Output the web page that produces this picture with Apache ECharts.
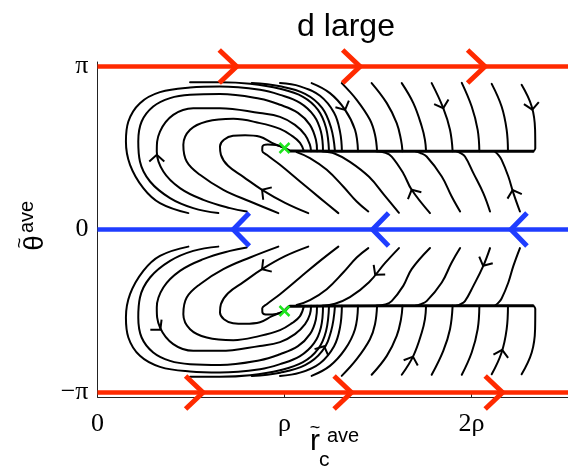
<!DOCTYPE html>
<html>
<head>
<meta charset="utf-8">
<script src="https://cdn.jsdelivr.net/npm/echarts@6/dist/echarts.min.js"></script>
<style>
  html, body { margin: 0; padding: 0; background: #fff; }
  #chart { width: 568px; height: 470px; }
</style>
</head>
<body>
<div id="chart"></div>
<script>
// Phase portrait of (r_c, theta) averaged dynamics, d large.
// x in units of rho, y in radians.

const xTickValues = [0, 1, 2];
const xTickLabels = ['0', 'ρ', '2ρ'];
const yTickValues = [-Math.PI, 0, Math.PI];
const yTickLabels = ['\u2212π', '0', 'π'];

const xRange = [0, 2.516];
const yRange = [-3.228, 3.228];

// Fixed points (green crosses)
const nodes = [[1, Math.PI / 2], [1, -Math.PI / 2]];

// Invariant lines: theta = ±pi (red) and theta = 0 (blue)
const redLineTop = [[0, Math.PI], [2.6, Math.PI]];
const redLineBottom = [[0, -Math.PI], [2.6, -Math.PI]];
const blueLine = [[0, 0], [2.6, 0]];

// Direction chevrons on the invariant lines: [x, y, xAhead, yAhead]
const redArrows = [
  [0.744, Math.PI, 0.9, Math.PI], [1.404, Math.PI, 1.6, Math.PI], [2.072, Math.PI, 2.2, Math.PI],
  [0.564, -Math.PI, 0.7, -Math.PI], [1.358, -Math.PI, 1.5, -Math.PI], [2.166, -Math.PI, 2.3, -Math.PI]
];
const blueArrows = [[0.726, 0, 0.6, 0], [1.471, 0, 1.3, 0], [2.211, 0, 2.1, 0]];

// Upper half: loops that wind round to the node
const upperLoops = [
  [[0.486,0.316],[0.334,0.509],[0.245,0.798],[0.174,1.247],[0.152,1.696],[0.165,2.081],[0.227,2.435],[0.334,2.647],[0.495,2.736],[0.655,2.755],[0.869,2.692],[0.976,2.595],[1.083,2.441],[1.158,2.191],[1.195,1.882],[1.206,1.507]],
  [[0.646,0.316],[0.512,0.412],[0.388,0.605],[0.281,0.925],[0.227,1.310],[0.218,1.696],[0.236,2.081],[0.298,2.370],[0.388,2.532],[0.495,2.595],[0.655,2.609],[0.869,2.518],[0.976,2.403],[1.072,2.249],[1.136,2.017],[1.168,1.728],[1.174,1.507]],
  [[0.798,0.347],[0.709,0.412],[0.566,0.572],[0.441,0.798],[0.352,1.118],[0.317,1.503],[0.334,1.888],[0.405,2.210],[0.512,2.339],[0.655,2.339],[0.869,2.243],[0.976,2.171],[1.056,2.017],[1.110,1.825],[1.136,1.632],[1.142,1.507]],
  [[0.967,0.316],[0.816,0.539],[0.673,0.765],[0.548,1.054],[0.477,1.310],[0.459,1.632],[0.495,1.921],[0.584,2.081],[0.726,2.133],[0.869,2.050],[0.976,1.940],[1.040,1.805],[1.083,1.670],[1.104,1.507]],
  [[1.127,0.316],[1.003,0.514],[0.880,0.765],[0.780,1.015],[0.698,1.227],[0.660,1.439],[0.655,1.599],[0.676,1.728],[0.725,1.805],[0.789,1.815],[0.869,1.786],[0.933,1.671],[1.0,1.571]],
  [[1.288,0.316],[1.190,0.605],[1.083,0.925],[0.976,1.247],[0.905,1.439],[0.881,1.520],[0.882,1.600],[0.910,1.640],[0.955,1.630],[1.0,1.571]]
];

// Upper half: lines entering from near theta = pi
const upperFromTop = [
  [[0.495,2.836],[0.655,2.836],[0.816,2.807],[0.976,2.711],[1.099,2.557],[1.179,2.306],[1.222,1.960],[1.238,1.507]],
  [[0.825,2.821],[0.976,2.759],[1.110,2.615],[1.201,2.345],[1.249,1.960],[1.270,1.507]],
  [[0.976,2.821],[1.083,2.759],[1.190,2.576],[1.265,2.249],[1.297,1.882],[1.307,1.507]],
  [[1.145,2.821],[1.243,2.628],[1.324,2.306],[1.377,1.921],[1.393,1.507]],
  [[1.306,2.821],[1.386,2.499],[1.457,2.114],[1.484,1.825],[1.495,1.507]],
  [[1.466,2.821],[1.547,2.435],[1.600,2.050],[1.623,1.728],[1.631,1.507]],
  [[1.627,2.821],[1.689,2.435],[1.734,1.985],[1.751,1.728],[1.757,1.507]],
  [[1.787,2.821],[1.849,2.339],[1.885,1.921],[1.899,1.507]],
  [[1.948,2.827],[2.001,2.370],[2.033,1.921],[2.042,1.507]],
  [[2.108,2.807],[2.161,2.370],[2.188,1.921],[2.195,1.507]],
  [[2.268,2.788],[2.322,2.370],[2.340,1.921],[2.341,1.560],[2.329,1.507]]
];

// Upper half: lines rising from near theta = 0
const upperFromBelow = [
  [[1.448,0.347],[1.386,0.540],[1.314,0.829],[1.226,1.150],[1.136,1.376],[1.065,1.491]],
  [[1.612,0.322],[1.537,0.649],[1.452,1.015],[1.350,1.304],[1.270,1.459],[1.201,1.507]],
  [[1.778,0.316],[1.680,0.765],[1.635,1.086],[1.573,1.406],[1.540,1.478],[1.490,1.507]],
  [[1.939,0.347],[1.894,0.636],[1.841,1.021],[1.760,1.406],[1.725,1.478],[1.700,1.507]],
  [[2.099,0.347],[2.063,0.701],[2.010,1.086],[1.965,1.406],[1.939,1.478],[1.920,1.507]],
  [[2.259,0.347],[2.224,0.701],[2.197,1.021],[2.161,1.343],[2.143,1.439],[2.126,1.497]]
];

// Stable branch running into the upper node
const upperTrunk = [[2.329,1.507],[1.6,1.507],[1.03,1.515],[1.0,1.571]];

// Lower half
const lowerLoops = [
  [[0.486,-0.330],[0.334,-0.509],[0.245,-0.798],[0.174,-1.247],[0.152,-1.696],[0.165,-2.081],[0.227,-2.435],[0.334,-2.647],[0.495,-2.736],[0.655,-2.755],[0.869,-2.692],[0.976,-2.595],[1.083,-2.441],[1.158,-2.191],[1.195,-1.882],[1.206,-1.470]],
  [[0.646,-0.330],[0.512,-0.412],[0.388,-0.605],[0.281,-0.925],[0.227,-1.310],[0.218,-1.696],[0.236,-2.081],[0.298,-2.370],[0.388,-2.532],[0.495,-2.595],[0.655,-2.609],[0.869,-2.518],[0.976,-2.403],[1.072,-2.249],[1.136,-2.017],[1.168,-1.728],[1.174,-1.470]],
  [[0.798,-0.347],[0.709,-0.412],[0.566,-0.572],[0.441,-0.798],[0.352,-1.118],[0.317,-1.503],[0.334,-1.888],[0.405,-2.210],[0.512,-2.339],[0.655,-2.339],[0.869,-2.243],[0.976,-2.171],[1.056,-2.017],[1.110,-1.825],[1.136,-1.632],[1.142,-1.470]],
  [[0.967,-0.330],[0.816,-0.539],[0.673,-0.765],[0.548,-1.054],[0.477,-1.310],[0.459,-1.632],[0.495,-1.921],[0.584,-2.081],[0.726,-2.133],[0.869,-2.050],[0.976,-1.940],[1.040,-1.805],[1.083,-1.670],[1.104,-1.470]],
  [[1.127,-0.330],[1.003,-0.514],[0.880,-0.765],[0.780,-1.015],[0.698,-1.227],[0.660,-1.439],[0.655,-1.599],[0.676,-1.728],[0.725,-1.805],[0.789,-1.815],[0.869,-1.786],[0.933,-1.671],[1.0,-1.571]],
  [[1.288,-0.330],[1.190,-0.605],[1.083,-0.925],[0.976,-1.247],[0.905,-1.439],[0.881,-1.520],[0.882,-1.600],[0.910,-1.640],[0.955,-1.630],[1.0,-1.571]]
];

const lowerFromBottom = [
  [[0.495,-2.836],[0.655,-2.836],[0.816,-2.807],[0.976,-2.711],[1.099,-2.557],[1.179,-2.306],[1.222,-1.960],[1.238,-1.470]],
  [[0.825,-2.821],[0.976,-2.759],[1.110,-2.615],[1.201,-2.345],[1.249,-1.960],[1.270,-1.470]],
  [[0.976,-2.821],[1.083,-2.759],[1.190,-2.576],[1.265,-2.249],[1.297,-1.882],[1.307,-1.470]],
  [[1.145,-2.821],[1.243,-2.628],[1.324,-2.306],[1.377,-1.921],[1.393,-1.470]],
  [[1.306,-2.821],[1.386,-2.499],[1.457,-2.114],[1.484,-1.825],[1.495,-1.470]],
  [[1.466,-2.800],[1.547,-2.435],[1.600,-2.050],[1.623,-1.728],[1.631,-1.470]],
  [[1.627,-2.800],[1.689,-2.435],[1.734,-1.985],[1.751,-1.728],[1.757,-1.470]],
  [[1.787,-2.800],[1.849,-2.339],[1.885,-1.921],[1.899,-1.470]],
  [[1.948,-2.800],[2.001,-2.370],[2.033,-1.921],[2.042,-1.470]],
  [[2.108,-2.790],[2.161,-2.370],[2.188,-1.921],[2.195,-1.470]],
  [[2.268,-2.790],[2.322,-2.370],[2.340,-1.921],[2.341,-1.525],[2.329,-1.470]]
];

const lowerFromAbove = [
  [[1.448,-0.358],[1.386,-0.540],[1.314,-0.829],[1.226,-1.150],[1.136,-1.360],[1.065,-1.455]],
  [[1.612,-0.358],[1.537,-0.649],[1.452,-1.015],[1.350,-1.304],[1.270,-1.430],[1.201,-1.470]],
  [[1.778,-0.358],[1.680,-0.765],[1.635,-1.086],[1.573,-1.380],[1.540,-1.445],[1.490,-1.470]],
  [[1.939,-0.358],[1.894,-0.636],[1.841,-1.021],[1.760,-1.380],[1.725,-1.445],[1.700,-1.470]],
  [[2.099,-0.358],[2.063,-0.701],[2.010,-1.086],[1.965,-1.380],[1.939,-1.445],[1.920,-1.470]],
  [[2.259,-0.358],[2.224,-0.701],[2.197,-1.021],[2.161,-1.330],[2.143,-1.415],[2.126,-1.465]]
];

const lowerTrunk = [[2.329,-1.470],[1.6,-1.470],[1.03,-1.480],[1.0,-1.571]];

// Flow-direction arrowheads on streamlines: [x, y, xAhead, yAhead]
const streamArrows = [
  [0.317,1.44,0.317,1.60], [0.880,0.765,0.780,1.015], [1.324,2.306,1.377,1.921],
  [1.849,2.339,1.885,1.921], [2.325,2.31,2.340,1.921], [1.680,0.765,1.635,1.086],
  [2.220,0.76,2.197,1.021],
  [0.336,-1.93,0.405,-2.21], [0.880,-0.765,0.780,-1.015], [1.212,-2.25,1.249,-1.96],
  [1.687,-2.45,1.734,-1.985], [2.164,-2.32,2.188,-1.921], [1.485,-0.873,1.452,-1.015],
  [2.062,-0.70,2.010,-1.086]
];

const RED = '#ff2a00';
const BLUE = '#1f3dff';
const GREEN = '#1ee61e';
const SANS = '"Liberation Sans", Arial, Helvetica, sans-serif';

function labelFor(values, labels) {
  return function (v) {
    for (let i = 0; i < values.length; i++) {
      if (Math.abs(values[i] - v) < 1e-6) return labels[i];
    }
    return '';
  };
}

function chevron(len, half, color, width) {
  return function (params, api) {
    const tip = api.coord([api.value(0), api.value(1)]);
    const ahead = api.coord([api.value(2), api.value(3)]);
    const back = Math.atan2(ahead[1] - tip[1], ahead[0] - tip[0]) + Math.PI;
    const a1 = [tip[0] + len * Math.cos(back - half), tip[1] + len * Math.sin(back - half)];
    const a2 = [tip[0] + len * Math.cos(back + half), tip[1] + len * Math.sin(back + half)];
    return {
      type: 'polyline',
      shape: { points: [a1, tip, a2] },
      style: { stroke: color, lineWidth: width, fill: null, lineJoin: 'miter', lineCap: 'butt' }
    };
  };
}

function streamSeries(curve, width, smooth) {
  return {
    type: 'line', data: curve, smooth: smooth, showSymbol: false, symbol: 'none',
    lineStyle: { color: '#000', width: width, cap: 'round', join: 'round' },
    silent: true, animation: false, z: 2
  };
}

const series = [];
[upperLoops, upperFromTop, upperFromBelow, lowerLoops, lowerFromBottom, lowerFromAbove].forEach(function (group) {
  group.forEach(function (c) { series.push(streamSeries(c, 2, 0.4)); });
});
[upperTrunk, lowerTrunk].forEach(function (t) { series.push(streamSeries(t, 3, 0.2)); });

series.push({
  type: 'custom', data: streamArrows, encode: { x: [0, 2], y: [1, 3] },
  renderItem: chevron(10, 0.85, '#000', 2), silent: true, animation: false, z: 3
});

[[redLineTop, RED], [redLineBottom, RED], [blueLine, BLUE]].forEach(function (p) {
  series.push({
    type: 'line', data: p[0], showSymbol: false, symbol: 'none',
    lineStyle: { color: p[1], width: 4.5 }, silent: true, animation: false, z: 4
  });
});

series.push({
  type: 'custom', data: redArrows, encode: { x: [0, 2], y: [1, 3] },
  renderItem: chevron(24, 0.76, RED, 5), silent: true, animation: false, z: 5
});
series.push({
  type: 'custom', data: blueArrows, encode: { x: [0, 2], y: [1, 3] },
  renderItem: chevron(23, 0.80, BLUE, 5), silent: true, animation: false, z: 5
});

series.push({
  type: 'custom', data: nodes,
  renderItem: function (params, api) {
    const c = api.coord([api.value(0), api.value(1)]);
    const h = 5;
    return {
      type: 'group',
      children: [
        { type: 'line', shape: { x1: c[0] - h, y1: c[1] - h, x2: c[0] + h, y2: c[1] + h }, style: { stroke: GREEN, lineWidth: 2.5 } },
        { type: 'line', shape: { x1: c[0] - h, y1: c[1] + h, x2: c[0] + h, y2: c[1] - h }, style: { stroke: GREEN, lineWidth: 2.5 } }
      ]
    };
  },
  silent: true, animation: false, z: 6
});

const axisColor = '#222';
const tickFont = { fontFamily: '"Liberation Serif", "Times New Roman", serif', fontSize: 26, color: '#000' };

const chart = echarts.init(document.getElementById('chart'), null, { renderer: 'canvas' });
chart.setOption({
  animation: false,
  backgroundColor: '#fff',
  grid: { left: 97.5, right: 0, top: 62, bottom: 73, containLabel: false, outerBoundsMode: 'none' },
  xAxis: {
    type: 'value', min: xRange[0], max: xRange[1],
    axisLine: { onZero: false, lineStyle: { color: axisColor, width: 1 } },
    axisTick: { inside: true, length: 5, customValues: xTickValues, lineStyle: { color: axisColor } },
    axisLabel: Object.assign({ customValues: xTickValues, formatter: labelFor(xTickValues, xTickLabels), margin: 14 }, tickFont),
    splitLine: { show: false }
  },
  yAxis: {
    type: 'value', min: yRange[0], max: yRange[1],
    axisLine: { onZero: false, lineStyle: { color: axisColor, width: 1 } },
    axisTick: { inside: true, length: 5, customValues: yTickValues, lineStyle: { color: axisColor } },
    axisLabel: Object.assign({ customValues: yTickValues, formatter: labelFor(yTickValues, yTickLabels), margin: 9 }, tickFont),
    splitLine: { show: false }
  },
  graphic: [
    { type: 'text', x: 346, y: 27, style: { text: 'd large', font: '32px ' + SANS, fill: '#000', align: 'center', verticalAlign: 'middle' } },
    { type: 'text', x: 315, y: 442, style: { text: 'r', font: '30px ' + SANS, fill: '#000', align: 'center', verticalAlign: 'middle' } },
    { type: 'text', x: 315, y: 428, style: { text: '~', font: '18px ' + SANS, fill: '#000', align: 'center', verticalAlign: 'middle' } },
    { type: 'text', x: 327, y: 436, style: { text: 'ave', font: '20px ' + SANS, fill: '#000', align: 'left', verticalAlign: 'middle' } },
    { type: 'text', x: 319, y: 460, style: { text: 'c', font: '21px ' + SANS, fill: '#000', align: 'left', verticalAlign: 'middle' } },
    {
      type: 'group', x: 35, y: 243, rotation: Math.PI / 2,
      children: [
        { type: 'text', x: 0, y: 0, style: { text: 'θ', font: '28px ' + SANS, fill: '#000', align: 'center', verticalAlign: 'middle' } },
        { type: 'text', x: 0, y: -15, style: { text: '~', font: '18px ' + SANS, fill: '#000', align: 'center', verticalAlign: 'middle' } },
        { type: 'text', x: 10, y: -8, style: { text: 'ave', font: '20px ' + SANS, fill: '#000', align: 'left', verticalAlign: 'middle' } }
      ]
    }
  ],
  series: series
});
</script>
</body>
</html>
